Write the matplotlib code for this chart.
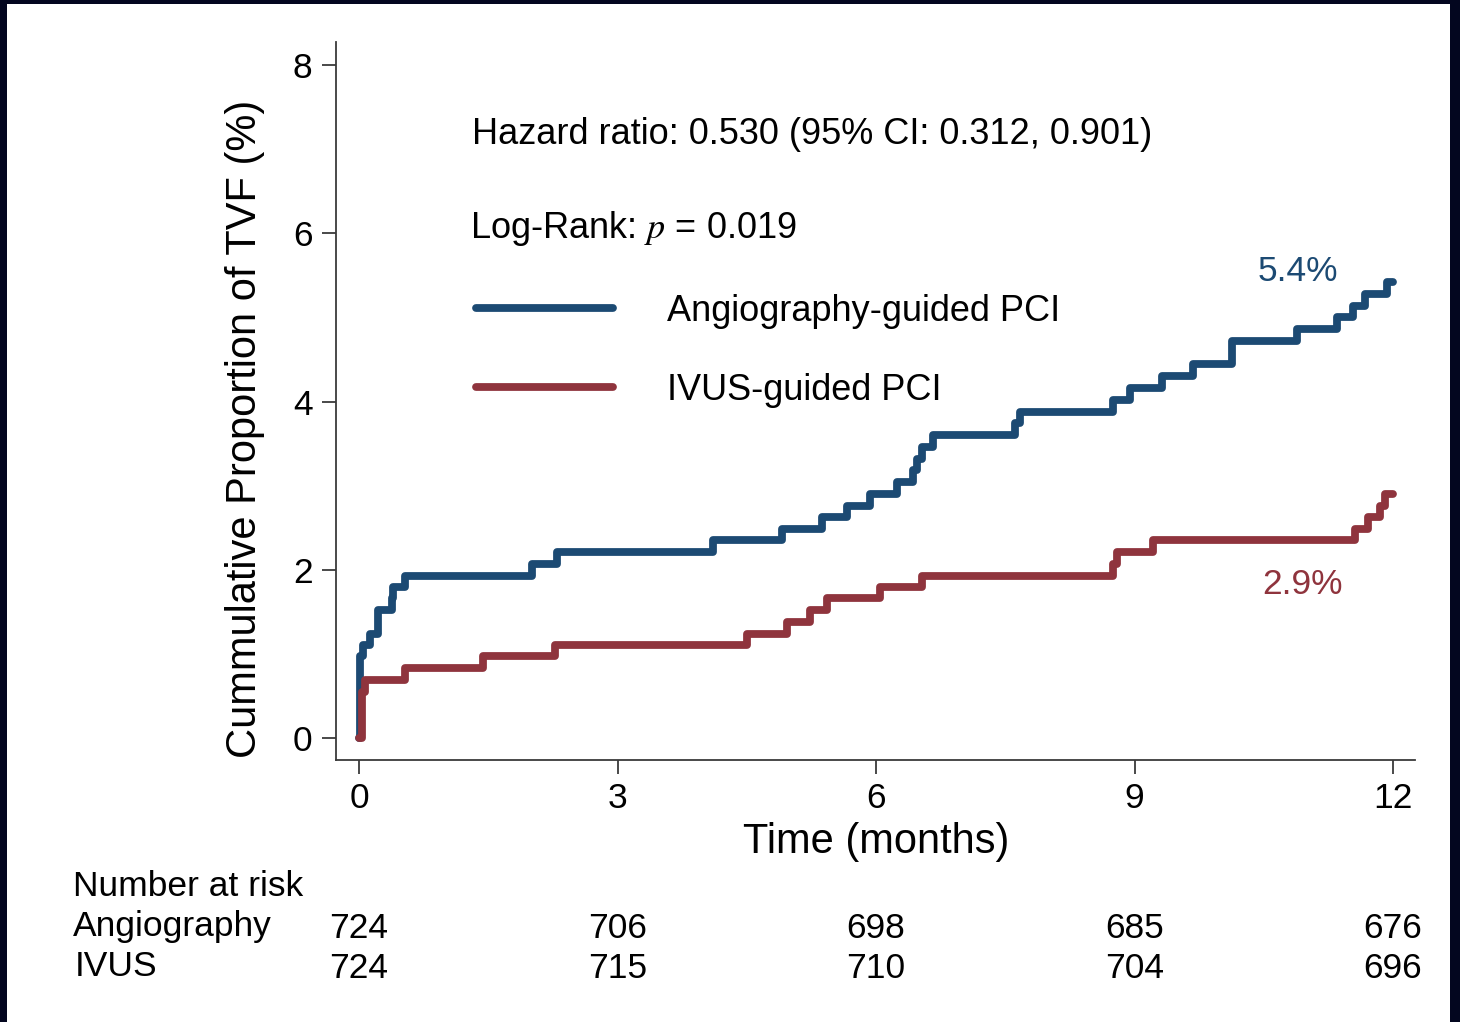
import matplotlib
matplotlib.use("Agg")
import matplotlib.pyplot as plt
from matplotlib.patches import Rectangle
from matplotlib.transforms import blended_transform_factory

plt.rcParams['font.family'] = ['Liberation Sans', 'DejaVu Sans']
plt.rcParams['mathtext.fontset'] = 'stix'

# Kaplan-Meier cumulative incidence (%) read as step points
angio_t = [0, 0.01, 0.05, 0.13, 0.22, 0.38, 0.40, 0.53, 2.01, 2.30, 4.11, 4.91,
           5.37, 5.66, 5.93, 6.24, 6.43, 6.47, 6.53, 6.66, 7.61, 7.67, 8.75, 8.95,
           9.32, 9.68, 10.13, 10.89, 11.35, 11.54, 11.67, 11.93, 12.0]
angio_v = [0, 0.97, 1.10, 1.24, 1.52, 1.66, 1.80, 1.93, 2.07, 2.21, 2.35, 2.49,
           2.63, 2.76, 2.90, 3.04, 3.18, 3.32, 3.46, 3.60, 3.74, 3.88, 4.02, 4.16,
           4.30, 4.44, 4.72, 4.86, 5.00, 5.14, 5.28, 5.42, 5.42]

ivus_t = [0, 0.04, 0.07, 0.53, 1.44, 2.27, 4.50, 4.97, 5.23, 5.43, 6.05, 6.53,
          8.75, 8.80, 9.21, 11.56, 11.71, 11.85, 11.91, 12.0]
ivus_v = [0, 0.55, 0.69, 0.83, 0.97, 1.10, 1.24, 1.38, 1.52, 1.66, 1.80, 1.93,
          2.07, 2.21, 2.35, 2.49, 2.63, 2.76, 2.90, 2.90]

risk_times = [0, 3, 6, 9, 12]
risk_angio = [724, 706, 698, 685, 676]
risk_ivus = [724, 715, 710, 704, 696]

blue = '#1c4a73'
red = '#8f343d'

fig = plt.figure(figsize=(14.6, 10.22), dpi=100)
fig.patch.set_facecolor('#03061f')
fig.patches.append(Rectangle((7 / 1460, 0), 1443 / 1460, 1 - 4 / 1022,
                             transform=fig.transFigure, facecolor='white',
                             edgecolor='none', zorder=-1))

ax = fig.add_axes([336 / 1460, 1 - 760 / 1022, 1079 / 1460, 718 / 1022])
ax.set_xlim(-0.267, 12.255)
ax.set_ylim(-0.261, 8.273)

style = dict(linewidth=5.6, solid_capstyle='round', solid_joinstyle='round')
l_angio, = ax.step(angio_t, angio_v, where='post', color=blue,
                   label='Angiography-guided PCI', zorder=3, **style)
l_ivus, = ax.step(ivus_t, ivus_v, where='post', color=red,
                  label='IVUS-guided PCI', zorder=4, **style)

for s in ['top', 'right']:
    ax.spines[s].set_visible(False)
for s in ['left', 'bottom']:
    ax.spines[s].set_linewidth(1.3)
    ax.spines[s].set_color('#3a3a3a')

ax.set_xticks(risk_times)
ax.set_yticks([0, 2, 4, 6, 8])
ax.tick_params(length=10, width=1.3, color='#3a3a3a', labelsize=25.5)
ax.tick_params(axis='y', pad=7)
ax.tick_params(axis='x', pad=6)

ax.set_xlabel('Time (months)', fontsize=30)
ax.xaxis.set_label_coords(0.5005, -0.087)
ax.set_ylabel('Cummulative Proportion of TVF (%)', fontsize=30)
ax.yaxis.set_label_coords(-0.066, 0.4617)

# end-of-follow-up labels
ax.text(10.89, 5.55, f'{angio_v[-1]:.1f}%', color=blue, fontsize=25.5,
        ha='center', va='center')
ax.text(10.95, 1.82, f'{ivus_v[-1]:.1f}%', color=red, fontsize=25.5,
        ha='center', va='center')

fig.text(472 / 1460, 1 - 135 / 1022,
         'Hazard ratio: 0.530 (95% CI: 0.312, 0.901)',
         fontsize=26, ha='left', va='center')
fig.text(470 / 1460, 1 - 228 / 1022, r'Log-Rank: $p$ = 0.019',
         fontsize=26, ha='left', va='center')

ax.legend(handles=[l_angio, l_ivus], loc='upper left',
          bbox_to_anchor=(476 / 1460, 1 - 294 / 1022),
          bbox_transform=fig.transFigure, frameon=False, fontsize=26,
          handlelength=3.8, handletextpad=1.5, labelspacing=1.22,
          borderpad=0, borderaxespad=0)

# number-at-risk table
tr = blended_transform_factory(ax.transData, fig.transFigure)
fig.text(73 / 1460, 1 - 886 / 1022, 'Number at risk', fontsize=25.5,
         ha='left', va='center')
fig.text(73 / 1460, 1 - 926 / 1022, 'Angiography', fontsize=25.5,
         ha='left', va='center')
fig.text(75 / 1460, 1 - 966 / 1022, 'IVUS', fontsize=25.5,
         ha='left', va='center')
for t, a, i in zip(risk_times, risk_angio, risk_ivus):
    ax.text(t, 1 - 928 / 1022, str(a), transform=tr, fontsize=25.5,
            ha='center', va='center')
    ax.text(t, 1 - 968 / 1022, str(i), transform=tr, fontsize=25.5,
            ha='center', va='center')

fig.savefig('out.png', dpi=100)
